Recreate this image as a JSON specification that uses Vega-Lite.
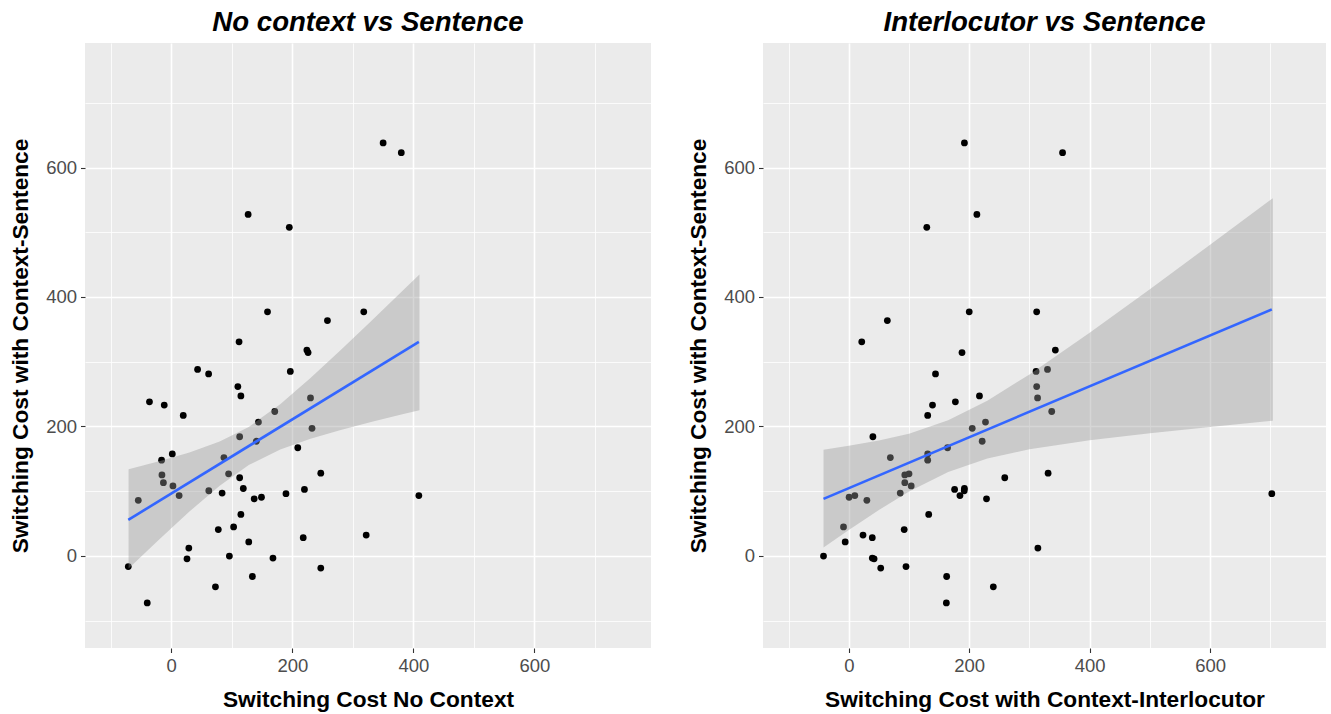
{
  "$schema": "https://vega.github.io/schema/vega-lite/v6.json",
  "padding": {"left": 9, "top": 9, "right": 5, "bottom": 5},
  "datasets": {
    "pts": [
      {"nc": 350, "ci": 192, "sent": 638},
      {"nc": 380, "ci": 355, "sent": 623},
      {"nc": 127, "ci": 212.7, "sent": 527.6},
      {"nc": 195, "ci": 129.5, "sent": 507.6},
      {"nc": 159, "ci": 200, "sent": 377},
      {"nc": 318, "ci": 312, "sent": 377},
      {"nc": 258, "ci": 64, "sent": 363.6},
      {"nc": 112, "ci": 21.5, "sent": 330.7},
      {"nc": 224, "ci": 343, "sent": 318},
      {"nc": 226, "ci": 188, "sent": 314},
      {"nc": 43.5, "ci": 330, "sent": 288},
      {"nc": 196.7, "ci": 311, "sent": 285},
      {"nc": 61.7, "ci": 144, "sent": 281},
      {"nc": 110, "ci": 312, "sent": 261.5},
      {"nc": 115, "ci": 217, "sent": 247},
      {"nc": 230, "ci": 313.5, "sent": 244},
      {"nc": -36, "ci": 177, "sent": 238},
      {"nc": -11.6, "ci": 139, "sent": 233},
      {"nc": 171, "ci": 337, "sent": 223},
      {"nc": 19.8, "ci": 131, "sent": 217},
      {"nc": 144, "ci": 227, "sent": 206.7},
      {"nc": 232.5, "ci": 205, "sent": 197},
      {"nc": 113, "ci": 40, "sent": 184},
      {"nc": 140.5, "ci": 221.5, "sent": 177},
      {"nc": 209, "ci": 164, "sent": 167},
      {"nc": 1.7, "ci": 131, "sent": 157.5},
      {"nc": 87, "ci": 69, "sent": 151.8},
      {"nc": -16, "ci": 131, "sent": 147.7},
      {"nc": 247, "ci": 331, "sent": 127.7},
      {"nc": 94.7, "ci": 100, "sent": 126.7},
      {"nc": -15.4, "ci": 93, "sent": 125},
      {"nc": 113, "ci": 259, "sent": 120.6},
      {"nc": -13, "ci": 93, "sent": 113},
      {"nc": 2.8, "ci": 103.6, "sent": 108},
      {"nc": 119, "ci": 192, "sent": 104},
      {"nc": 220, "ci": 175.7, "sent": 102.6},
      {"nc": 62, "ci": 191.7, "sent": 100.5},
      {"nc": 84, "ci": 85.4, "sent": 97},
      {"nc": 189.5, "ci": 702.5, "sent": 96},
      {"nc": 13, "ci": 10, "sent": 93},
      {"nc": 409, "ci": 184.6, "sent": 93},
      {"nc": 149, "ci": 0.5, "sent": 90.5},
      {"nc": 137, "ci": 228.7, "sent": 88},
      {"nc": -54.5, "ci": 30, "sent": 85.7},
      {"nc": 115, "ci": 132.7, "sent": 64},
      {"nc": 103, "ci": -8.8, "sent": 44.6},
      {"nc": 77.7, "ci": 92, "sent": 40.5},
      {"nc": 322, "ci": 23.6, "sent": 32},
      {"nc": 218, "ci": 39, "sent": 28},
      {"nc": 128, "ci": -6, "sent": 21.5},
      {"nc": 29, "ci": 314, "sent": 12},
      {"nc": 96, "ci": -42, "sent": -0.5},
      {"nc": 168, "ci": 39, "sent": -3.5},
      {"nc": 26, "ci": 42, "sent": -4.6},
      {"nc": -71, "ci": 95, "sent": -16.7},
      {"nc": 247, "ci": 53, "sent": -19},
      {"nc": 134, "ci": 162.5, "sent": -32},
      {"nc": 73, "ci": 240, "sent": -48},
      {"nc": -39.7, "ci": 162, "sent": -72.8}
    ],
    "bandL": [
      {"x": -70.5, "lo": -19.7, "hi": 133.7},
      {"x": -20, "lo": 25.2, "hi": 146.2},
      {"x": 30, "lo": 68.4, "hi": 159.8},
      {"x": 80, "lo": 108.4, "hi": 176.6},
      {"x": 128, "lo": 140.2, "hi": 199.2},
      {"x": 180, "lo": 164.4, "hi": 234.2},
      {"x": 230, "lo": 180.8, "hi": 274.6},
      {"x": 280, "lo": 194.3, "hi": 317.9},
      {"x": 330, "lo": 206.6, "hi": 362.4},
      {"x": 380, "lo": 218.2, "hi": 407.6},
      {"x": 410, "lo": 225, "hi": 434.8}
    ],
    "bandR": [
      {"x": -42, "lo": 12.8, "hi": 164.0},
      {"x": 0, "lo": 39.9, "hi": 169.9},
      {"x": 50, "lo": 70.9, "hi": 178.1},
      {"x": 100, "lo": 99.2, "hi": 188.8},
      {"x": 165, "lo": 129.5, "hi": 209.5},
      {"x": 230, "lo": 150.2, "hi": 239.8},
      {"x": 300, "lo": 164.5, "hi": 280.3},
      {"x": 400, "lo": 178.4, "hi": 344.8},
      {"x": 500, "lo": 189.3, "hi": 412.1},
      {"x": 600, "lo": 199.1, "hi": 480.7},
      {"x": 704.2, "lo": 208.7, "hi": 552.7}
    ]
  },
  "spacing": 112,
  "bounds": "flush",
  "hconcat": [
    {
      "width": 566,
      "height": 605,
      "title": "No context vs Sentence",
      "layer": [
        {
          "data": {"name": "pts"},
          "mark": {"type": "circle", "size": 46, "color": "black", "opacity": 1},
          "encoding": {
            "x": {"field": "nc", "type": "quantitative", "title": "Switching Cost No Context",
                  "scale": {"domain": [-142.5, 792.5], "nice": false, "zero": false},
                  "axis": {"values": [-100, 0, 100, 200, 300, 400, 500, 600, 700]}},
            "y": {"field": "sent", "type": "quantitative", "title": "Switching Cost with Context-Sentence",
                  "scale": {"domain": [-142.5, 792.5], "nice": false, "zero": false},
                  "axis": {"values": [-100, 0, 100, 200, 300, 400, 500, 600, 700]}}
          }
        },
        {
          "data": {"name": "bandL"},
          "mark": {"type": "area", "color": "#999999", "opacity": 0.4},
          "encoding": {
            "x": {"field": "x", "type": "quantitative", "title": "Switching Cost No Context"},
            "y": {"field": "lo", "type": "quantitative", "title": "Switching Cost with Context-Sentence"},
            "y2": {"field": "hi"}
          }
        },
        {
          "data": {"name": "pts"},
          "transform": [{"regression": "sent", "on": "nc"}],
          "mark": {"type": "line", "color": "#3366FF", "strokeWidth": 2.6},
          "encoding": {
            "x": {"field": "nc", "type": "quantitative", "title": "Switching Cost No Context"},
            "y": {"field": "sent", "type": "quantitative", "title": "Switching Cost with Context-Sentence"}
          }
        }
      ]
    },
    {
      "width": 563,
      "height": 605,
      "title": "Interlocutor vs Sentence",
      "layer": [
        {
          "data": {"name": "pts"},
          "mark": {"type": "circle", "size": 46, "color": "black", "opacity": 1},
          "encoding": {
            "x": {"field": "ci", "type": "quantitative", "title": "Switching Cost with Context-Interlocutor",
                  "scale": {"domain": [-142.5, 792.5], "nice": false, "zero": false},
                  "axis": {"values": [-100, 0, 100, 200, 300, 400, 500, 600, 700]}},
            "y": {"field": "sent", "type": "quantitative", "title": "Switching Cost with Context-Sentence",
                  "scale": {"domain": [-142.5, 792.5], "nice": false, "zero": false},
                  "axis": {"values": [-100, 0, 100, 200, 300, 400, 500, 600, 700]}}
          }
        },
        {
          "data": {"name": "bandR"},
          "mark": {"type": "area", "color": "#999999", "opacity": 0.4},
          "encoding": {
            "x": {"field": "x", "type": "quantitative", "title": "Switching Cost with Context-Interlocutor"},
            "y": {"field": "lo", "type": "quantitative", "title": "Switching Cost with Context-Sentence"},
            "y2": {"field": "hi"}
          }
        },
        {
          "data": {"name": "pts"},
          "transform": [{"regression": "sent", "on": "ci"}],
          "mark": {"type": "line", "color": "#3366FF", "strokeWidth": 2.6},
          "encoding": {
            "x": {"field": "ci", "type": "quantitative", "title": "Switching Cost with Context-Interlocutor"},
            "y": {"field": "sent", "type": "quantitative", "title": "Switching Cost with Context-Sentence"}
          }
        }
      ]
    }
  ],
  "config": {
    "view": {"fill": "#EBEBEB", "stroke": null},
    "font": "Liberation Sans",
    "axis": {
      "labelExpr": "datum.value % 200 === 0 ? datum.label : ''",
      "domain": false, "grid": true, "gridColor": "#FFFFFF",
      "gridWidth": {"condition": {"test": "datum.value % 200 === 0", "value": 1.6}, "value": 0.8},
      "tickColor": "#333333", "tickSize": 4.5, "tickWidth": 1.1,
      "tickOpacity": {"condition": {"test": "datum.value % 200 === 0", "value": 1}, "value": 0},
      "labelColor": "#4D4D4D", "labelFontSize": 18.5, "labelFont": "Liberation Sans", "labelPadding": 4,
      "labelOverlap": false,
      "titleFont": "Liberation Sans", "titleFontSize": 22.7, "titleFontWeight": "bold", "titleColor": "#000000", "titlePadding": 13
    },
    "title": {"fontSize": 27.6, "fontStyle": "italic", "fontWeight": "bold", "font": "Liberation Sans", "color": "#000000", "anchor": "middle", "offset": 6}
  }
}
